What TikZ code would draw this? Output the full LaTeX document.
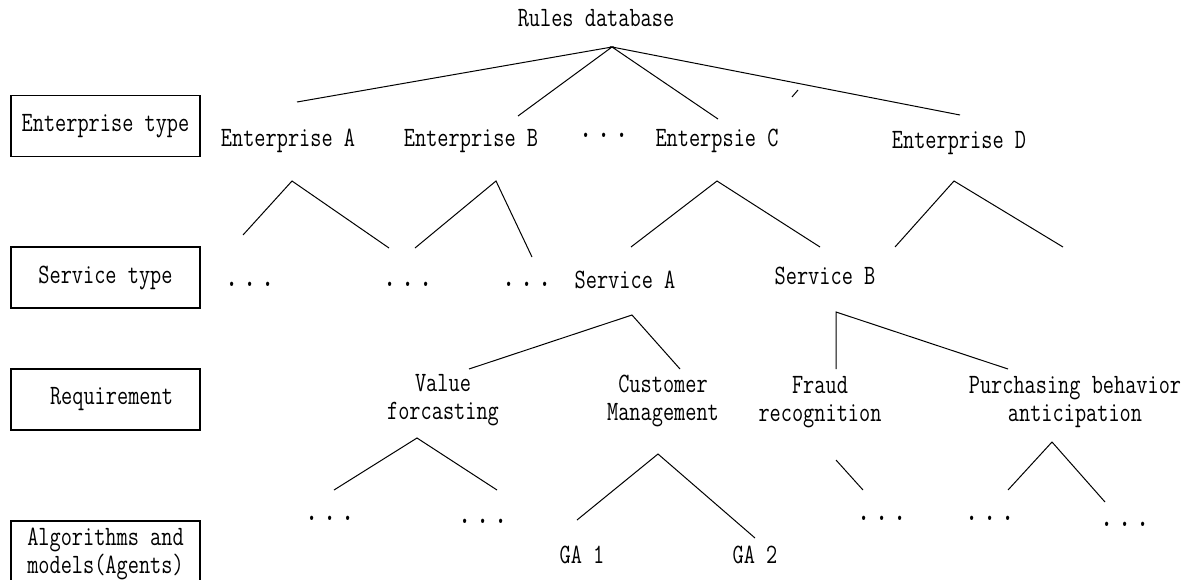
\documentclass[tikz,border=0pt]{standalone}
\usepackage{fontspec}
\setmonofont{Latin Modern Mono}[FakeStretch=0.775]
\newcommand{\tdots}{{\fontsize{38}{38}\selectfont.\hspace{2.5pt}.\hspace{2.5pt}.}}

\begin{document}
\begin{tikzpicture}[x=1pt, y=-1pt, font=\ttfamily\fontsize{28}{28}\selectfont,
  every node/.style={inner sep=0pt},
  levelbox/.style={draw, line width=1.2pt, minimum width=189pt, minimum height=61pt, align=center},
  itemtext/.style={align=center},
  branch/.style={line width=1pt}]
\useasboundingbox (0,0) rectangle (1189,579);
%levels on the left
\node [levelbox] (typeBox) at (105.5,126) {Enterprise type};
\node [levelbox] (servBox) at (105.5,277.5) {Service type};
\node [levelbox] (reqBox) at (105.5,399.5) {\hspace{12pt}Requirement};
\node [levelbox, minimum height=66pt] (algBox) at (105.5,554) {Algorithms and\\models(Agents)};
%tree texts
\node [itemtext] (rules) at (596,18) {Rules database};
\node [itemtext] (entA) at (288,141) {Enterprise A};
\node [itemtext] (entB) at (471,141) {Enterprise B};
\node [itemtext] (entDots) at (604,135) {\tdots};
\node [itemtext] (entC) at (717,141) {Enterpsie C};
\node [itemtext] (entD) at (959,143) {Enterprise D};
\node [itemtext] (servDotsA) at (250,284) {\tdots};
\node [itemtext] (servDotsB) at (408,284) {\tdots};
\node [itemtext] (servDotsC) at (527,284) {\tdots};
\node [itemtext] (servA) at (625,280) {Service A};
\node [itemtext] (servB) at (825,276) {Service B};
\node [itemtext] (valF) at (443,400) {Value\\forcasting};
\node [itemtext] (custM) at (663,401) {Customer\\Management};
\node [itemtext] (fraud) at (820,402) {Fraud\\recognition};
\node [itemtext] (purch) at (1075,402) {Purchasing behavior\\anticipation};
\node [itemtext] (algDotsA) at (330,518) {\tdots};
\node [itemtext] (algDotsB) at (483,521) {\tdots};
\node [itemtext] (ga1) at (582,555) {GA 1};
\node [itemtext] (ga2) at (755,555) {GA 2};
\node [itemtext] (algDotsC) at (882,518) {\tdots};
\node [itemtext] (algDotsD) at (990,518) {\tdots};
\node [itemtext] (algDotsE) at (1125,524) {\tdots};
%branch points
\coordinate (rulesTop) at (612,47);
\coordinate (rulesA) at (297,102);
\coordinate (rulesB) at (518,116);
\coordinate (rulesC) at (718,119);
\coordinate (rulesD) at (960,115);
\coordinate (tickA) at (792,97);
\coordinate (tickB) at (798,90);
\coordinate (entATop) at (292,181);
\coordinate (entAL) at (243,235);
\coordinate (entAR) at (389,248);
\coordinate (entBTop) at (496,181);
\coordinate (entBL) at (415,248);
\coordinate (entBR) at (532,257);
\coordinate (entCTop) at (717,181);
\coordinate (entCL) at (631,247);
\coordinate (entCR) at (820,247);
\coordinate (entDTop) at (954,181);
\coordinate (entDL) at (895,247);
\coordinate (entDR) at (1063,247);
\coordinate (servATop) at (632,315);
\coordinate (servAL) at (469,369);
\coordinate (servAR) at (680,369);
\coordinate (servBTop) at (836,312);
\coordinate (servBL) at (836,369);
\coordinate (servBR) at (1008,369);
\coordinate (valFTop) at (417,438);
\coordinate (valFL) at (334,490);
\coordinate (valFR) at (497,490);
\coordinate (custMTop) at (658,454);
\coordinate (custML) at (577,520);
\coordinate (custMR) at (755,538);
\coordinate (fraudTop) at (836,460);
\coordinate (fraudR) at (863,490);
\coordinate (purchTop) at (1052,442);
\coordinate (purchL) at (1008,490);
\coordinate (purchR) at (1105,502);
%branches
\draw [branch] (rulesA) -- (rulesTop) -- (rulesB);
\draw [branch] (rulesC) -- (rulesTop) -- (rulesD);
\draw [branch] (tickA) -- (tickB);
\draw [branch] (entAL) -- (entATop) -- (entAR);
\draw [branch] (entBL) -- (entBTop) -- (entBR);
\draw [branch] (entCL) -- (entCTop) -- (entCR);
\draw [branch] (entDL) -- (entDTop) -- (entDR);
\draw [branch] (servAL) -- (servATop) -- (servAR);
\draw [branch] (servBL) -- (servBTop) -- (servBR);
\draw [branch] (valFL) -- (valFTop) -- (valFR);
\draw [branch] (custML) -- (custMTop) -- (custMR);
\draw [branch] (fraudTop) -- (fraudR);
\draw [branch] (purchL) -- (purchTop) -- (purchR);
\end{tikzpicture}
\end{document}
